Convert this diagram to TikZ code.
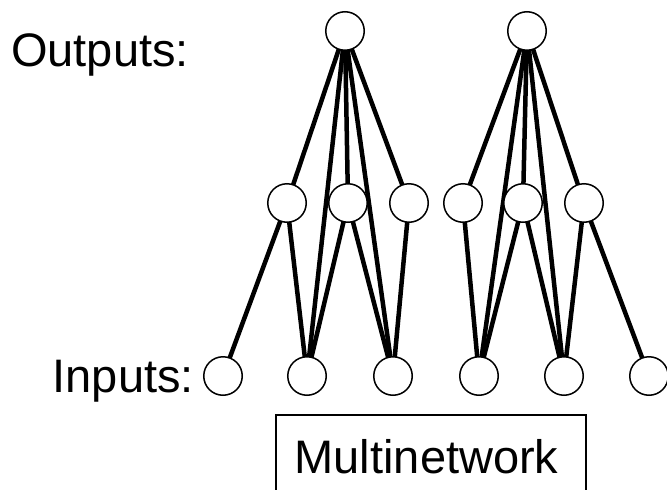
\documentclass[tikz,border=0pt]{standalone}
\usepackage{fontspec}
\setmainfont{Liberation Sans}
\usetikzlibrary{backgrounds}

\tikzset{
  unit/.style={circle, draw=black, fill=white, line width=1.5pt,
               minimum size=38.5pt, inner sep=0pt},
  link/.style={line width=4.5pt, black},
  label/.style={inner sep=0pt, anchor=base west,
                font=\fontsize{47}{56}\selectfont},
  frame/.style={line width=1.6pt}
}

\begin{document}
\begin{tikzpicture}[x=1pt, y=-1pt]
  \clip (0,0) rectangle (667,490);

  % output units
  \node[unit] (o1) at (345,31) {};
  \node[unit] (o2) at (527,31) {};

  % hidden units
  \node[unit] (h1) at (287,203) {};
  \node[unit] (h2) at (348,203) {};
  \node[unit] (h3) at (409,203) {};
  \node[unit] (h4) at (463,203) {};
  \node[unit] (h5) at (523,203) {};
  \node[unit] (h6) at (584,203) {};

  % input units
  \node[unit] (i1) at (223,376) {};
  \node[unit] (i2) at (307,376) {};
  \node[unit] (i3) at (393,376) {};
  \node[unit] (i4) at (479,376) {};
  \node[unit] (i5) at (564,376) {};
  \node[unit] (i6) at (649,376) {};

  % connections, kept behind the units
  \begin{pgfonlayer}{background}
    \foreach \a/\b in {o1/h1, o1/h2, o1/h3, o1/i2, o1/i3,
                       o2/h4, o2/h5, o2/h6, o2/i4, o2/i5,
                       h1/i1, h1/i2, h2/i2, h2/i3, h3/i3,
                       h4/i4, h5/i4, h5/i5, h6/i5, h6/i6}
      \draw[link] (\a.center) -- (\b.center);
  \end{pgfonlayer}

  % labels
  \node[label] (outlbl) at (11,66) {Outputs:};
  \node[label] (inlbl) at (52.5,392) {Inputs:};

  % caption box
  \draw[frame] (276,500) -- (276,415) -- (586,415) -- (586,500);
  \node[label] (caption) at (294.5,473) {Multinetwork};
\end{tikzpicture}
\end{document}
